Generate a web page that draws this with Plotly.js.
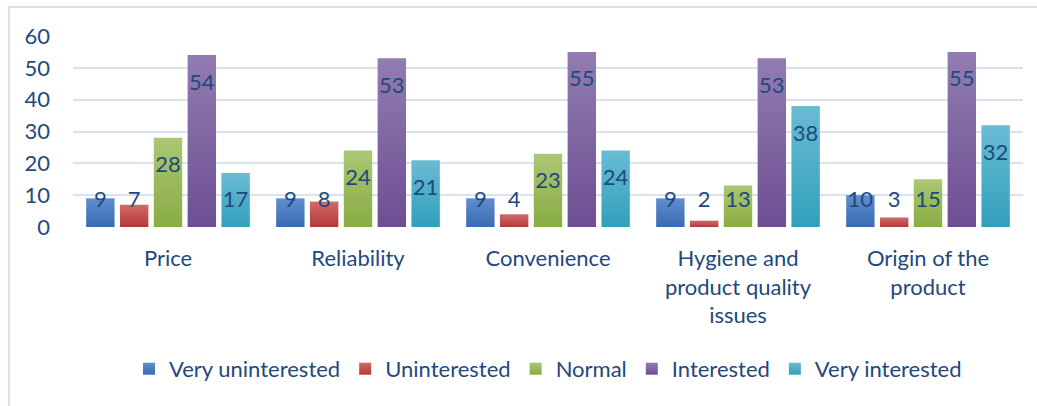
<!DOCTYPE html>
<html>
<head>
<meta charset="utf-8">
<script src="https://cdn.plot.ly/plotly-3.0.1.min.js"></script>
<style>
  html, body { margin: 0; padding: 0; background: #ffffff; }
  #wrap { position: relative; width: 1037px; height: 406px; overflow: hidden; }
  #chart { width: 1037px; height: 406px; }
  #frame {
    position: absolute; left: 8px; top: 6px; right: -10px; bottom: -10px;
    border-left: 2px solid #D6E0F0; border-top: 2px solid #D6E0F0;
    pointer-events: none;
  }
</style>
</head>
<body>
<div id="wrap">
  <div id="chart"></div>
  <div id="frame"></div>
</div>
<script>
// Survey: interest level per purchase factor
const categories = [
  "Price",
  "Reliability",
  "Convenience",
  "Hygiene and<br>product quality<br>issues",
  "Origin of the<br>product"
];
const seriesNames = ["Very uninterested", "Uninterested", "Normal", "Interested", "Very interested"];
const veryUninterested = [9, 9, 9, 9, 10];
const uninterested     = [7, 8, 4, 2, 3];
const normal           = [28, 24, 23, 13, 15];
const interested       = [54, 53, 55, 53, 55];
const veryInterested   = [17, 21, 24, 38, 32];
const yTicks = [0, 10, 20, 30, 40, 50, 60];

const seriesValues = [veryUninterested, uninterested, normal, interested, veryInterested];
// gradient stops (top, bottom) and a flat colour for each series
const topColors    = ["#5F8FCF", "#CF6B69", "#ABC774", "#927CB1", "#6ABBD3"];
const bottomColors = ["#3A6AB0", "#B53936", "#89AC43", "#6D4E93", "#31A0BC"];
const flatColors   = ["#4F81BD", "#C0504D", "#9BBB59", "#8064A2", "#4BACC6"];

const textColor = "#1F497D";
const fontFamily = "Lato, 'Open Sans', sans-serif";
const BARGAP = 0.11, GROUPGAP = 0.16;
const xIdx = categories.map((_, i) => i);
const nSeries = seriesValues.length;

const traces = [];
seriesValues.forEach((vals, j) => {
  traces.push({
    type: "bar",
    name: seriesNames[j],
    x: xIdx,
    y: vals,
    marker: { color: flatColors[j], line: { width: 0 } },
    hoverinfo: "skip"
  });
});

// data labels sit just inside the top of each bar, never lower than the floor
const slot = (1 - BARGAP) / nSeries;
seriesValues.forEach((vals, j) => {
  const off = -(1 - BARGAP) / 2 + (j + 0.5) * slot;
  traces.push({
    type: "scatter",
    mode: "text",
    x: xIdx.map(i => i + off),
    y: vals.map(v => Math.max(v - 9.1, 7.9)),
    text: vals.map(String),
    textposition: "middle center",
    textfont: { family: fontFamily, size: 22, color: textColor },
    showlegend: false,
    hoverinfo: "skip",
    cliponaxis: false
  });
});

const layout = {
  width: 1037,
  height: 406,
  margin: { l: 73, r: 14, t: 36, b: 179 },
  paper_bgcolor: "rgba(0,0,0,0)",
  plot_bgcolor: "rgba(0,0,0,0)",
  barmode: "group",
  bargap: BARGAP,
  bargroupgap: GROUPGAP,
  font: { family: fontFamily, size: 22, color: textColor },
  xaxis: {
    range: [-0.5, categories.length - 0.5],
    tickvals: xIdx,
    ticktext: categories,
    showgrid: false,
    zeroline: false,
    showline: false,
    ticks: "",
    ticklabelstandoff: 16,
    tickfont: { family: fontFamily, size: 22, color: textColor },
    fixedrange: true
  },
  yaxis: {
    range: [0, 60],
    tickvals: yTicks,
    ticktext: yTicks.map(String),
    showgrid: true,
    gridcolor: "#D9E2F1",
    gridwidth: 2,
    zeroline: false,
    showline: false,
    ticks: "",
    ticklabelstandoff: 22,
    tickfont: { family: fontFamily, size: 22, color: textColor },
    fixedrange: true
  },
  showlegend: true,
  legend: {
    orientation: "h",
    x: 0.5,
    xanchor: "center",
    y: -0.743,
    yanchor: "middle",
    font: { family: fontFamily, size: 22, color: textColor },
    bgcolor: "rgba(0,0,0,0)"
  }
};

function applyGradients(gd) {
  const svg = gd.querySelector("svg.main-svg");
  const ns = "http://www.w3.org/2000/svg";
  let defs = svg.querySelector("defs");
  if (!defs) { defs = document.createElementNS(ns, "defs"); svg.insertBefore(defs, svg.firstChild); }
  topColors.forEach((c, j) => {
    const g = document.createElementNS(ns, "linearGradient");
    g.setAttribute("id", "barGrad" + j);
    g.setAttribute("x1", "0"); g.setAttribute("y1", "0");
    g.setAttribute("x2", "0"); g.setAttribute("y2", "1");
    const s1 = document.createElementNS(ns, "stop");
    s1.setAttribute("offset", "0"); s1.setAttribute("stop-color", c);
    const s2 = document.createElementNS(ns, "stop");
    s2.setAttribute("offset", "1"); s2.setAttribute("stop-color", bottomColors[j]);
    g.appendChild(s1); g.appendChild(s2);
    defs.appendChild(g);
  });
  gd.querySelectorAll(".barlayer .trace").forEach((tr, j) => {
    tr.querySelectorAll(".point path").forEach(p => { p.style.fill = "url(#barGrad" + j + ")"; });
  });
  gd.querySelectorAll(".legend .traces").forEach((tr, j) => {
    tr.querySelectorAll(".legendpoints path").forEach(p => { p.style.fill = "url(#barGrad" + j + ")"; });
  });
}

const gd = document.getElementById("chart");
Plotly.newPlot(gd, traces, layout, { displayModeBar: false, staticPlot: true })
  .then(() => applyGradients(gd));
</script>
</body>
</html>
